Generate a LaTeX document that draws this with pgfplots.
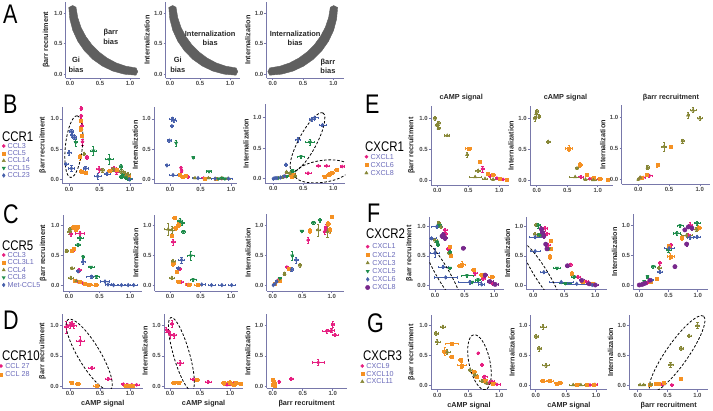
\documentclass[border=0pt]{standalone}
\usepackage{pgfplots}
\pgfplotsset{compat=1.18}
\usepackage{fontspec}
\setmainfont{Liberation Sans}
\usepackage{graphicx}
\definecolor{pinkc}{RGB}{230,30,128}
\definecolor{orangec}{RGB}{245,145,35}
\definecolor{olivec}{RGB}{135,135,55}
\definecolor{greenc}{RGB}{30,140,75}
\definecolor{bluec}{RGB}{70,95,170}
\definecolor{purplec}{RGB}{120,40,140}
\definecolor{axc}{RGB}{120,120,170}
\definecolor{tickc}{RGB}{70,70,70}
\definecolor{legc}{RGB}{105,105,185}
\definecolor{bandc}{RGB}{95,95,95}
\newcommand\tickf{\fontsize{6}{7}\selectfont\bfseries}
\newcommand\labf{\fontsize{7.3}{8}\selectfont\bfseries}
\newcommand\legf{\fontsize{7.2}{8}\selectfont}
\newcommand\letf{\fontsize{27}{27}\selectfont}
\newcommand\recf{\fontsize{14}{14}\selectfont}
\newcommand\dashell[5]{\draw[black, line width=0.8pt, dash pattern=on 2.6pt off 1.8pt,
  rotate around={#5:(axis cs:#1,#2)}] (axis cs:#1,#2) ellipse [x radius=#3bp, y radius=#4bp];}
\tikzset{atxt/.style={font=\fontsize{7.5}{9.5}\selectfont\bfseries, align=center, text=black!85}}

\pgfplotsset{
  panel/.style n args={8}{
    at={(#1bp,-#2bp)}, anchor=origin, x=#3bp, y=#4bp,
    xmin=#5, xmax=#6, ymin=#7, ymax=#8,
    axis lines=left, axis line style={draw=axc, line width=0.8pt, -},
    xtick={0,0.5,1}, ytick={0,0.5,1},
    xticklabels={0.0,0.5,1.0}, yticklabels={0.0,0.5,1.0},
    tick style={draw=axc, line width=0.6pt}, tick align=outside,
    major tick length=2.2bp,
    ticklabel style={font=\tickf, text=tickc, inner sep=1pt},
    label style={font=\labf, text=black!85},
    title style={font=\labf, text=black!85, yshift=-5bp},
    clip=true,
  },
  leg/.style n args={3}{legend style={at={(axis description cs:#1,#2)}, anchor=north west,
    draw=none, fill=none, inner sep=0pt, outer sep=0pt, font=\legf, text=legc,
    column sep=1.5pt, nodes={inner sep=#3, text height=5.3pt, text depth=0.7pt}},
    legend cell align=left},
  every axis plot post/.append style={legend image code/.code={
    \draw[mark repeat=2,mark phase=2,##1] plot coordinates {(0cm,0cm) (0.12cm,0cm) (0.24cm,0cm)};}},
  eb/.style={error bars/x dir=both, error bars/y dir=both,
    error bars/x explicit, error bars/y explicit,
    error bars/error bar style={line width=0.5pt},
    error bars/error mark options={rotate=90, mark size=1.1pt, line width=0.5pt}},
  pk/.style={only marks, color=pinkc, mark=*, mark size=1.6bp, eb},
  or/.style={only marks, color=orangec, mark=square*, mark size=1.5bp, eb},
  ol/.style={only marks, color=olivec, mark=triangle*, mark size=1.9bp, eb},
  gr/.style={only marks, color=greenc, mark=triangle*, mark options={rotate=180}, mark size=1.9bp, eb},
  bl/.style={only marks, color=bluec, mark=diamond*, mark size=1.9bp, eb},
  pu/.style={only marks, color=purplec, mark=*, mark size=2.2bp, eb},
  band/.style={draw=bandc, fill=bandc, line width=0.4pt},
}

\begin{document}
\begin{tikzpicture}
\useasboundingbox (0,0) rectangle (713bp,-411bp);

% ---------------- row A ----------------
\begin{axis}[panel={70}{74}{60}{60.7}{-0.07}{1.17}{-0.066}{1.19}, ylabel={βarr recruitment}]
\addplot[band] coordinates {(-0.020,1.100)(-0.003,0.905)(0.047,0.717)(0.130,0.540)(0.242,0.380)(0.380,0.242)(0.540,0.130)(0.717,0.047)(0.905,-0.003)(1.100,-0.020)(1.13,0.04)(1.100,0.100)(0.929,0.129)(0.767,0.184)(0.617,0.264)(0.482,0.364)(0.364,0.482)(0.264,0.617)(0.184,0.767)(0.129,0.929)(0.100,1.100)(0.04,1.13)};
\node[atxt] at (axis cs:0.68,0.61) {βarr\\bias};
\node[atxt] at (axis cs:0.10,0.15) {Gi\\bias};
\end{axis}
\begin{axis}[panel={170}{74}{60}{60.7}{-0.07}{1.17}{-0.066}{1.19}, ylabel={Internalization}]
\addplot[band] coordinates {(-0.020,1.100)(-0.003,0.905)(0.047,0.717)(0.130,0.540)(0.242,0.380)(0.380,0.242)(0.540,0.130)(0.717,0.047)(0.905,-0.003)(1.100,-0.020)(1.13,0.04)(1.100,0.100)(0.929,0.129)(0.767,0.184)(0.617,0.264)(0.482,0.364)(0.364,0.482)(0.264,0.617)(0.184,0.767)(0.129,0.929)(0.100,1.100)(0.04,1.13)};
\node[atxt] at (axis cs:0.67,0.59) {Internalization\\bias};
\node[atxt] at (axis cs:0.13,0.15) {Gi\\bias};
\end{axis}
\begin{axis}[panel={272.7}{74}{60.7}{60.7}{-0.1}{1.17}{-0.066}{1.19}, ylabel={Internalization}]
\addplot[band] coordinates {(1.070,1.100)(1.053,0.905)(1.003,0.717)(0.920,0.540)(0.808,0.380)(0.670,0.242)(0.510,0.130)(0.333,0.047)(0.145,-0.003)(-0.050,-0.020)(-0.08,0.04)(-0.050,0.100)(0.121,0.129)(0.283,0.184)(0.433,0.264)(0.568,0.364)(0.686,0.482)(0.786,0.617)(0.866,0.767)(0.921,0.929)(0.950,1.100)(1.01,1.13)};
\node[atxt] at (axis cs:0.37,0.59) {Internalization\\bias};
\node[atxt] at (axis cs:0.91,0.13) {βarr\\bias};
\end{axis}

% ---------------- row B ----------------
\begin{axis}[panel={69}{179.3}{61}{60.5}{-0.11}{1.2}{-0.07}{1.2}, ylabel={βarr recruitment}, leg={-0.753}{0.537}{0.7pt}]
\addplot[pk] table[x error index=2,y error index=3,row sep=\\]{x y ex ey\\ 0.20 1.17 0.01 0.03\\ 0.20 1.05 0.01 0.03\\ 0.20 0.98 0.01 0.03\\ 0.21 0.88 0.02 0.04\\ 0.22 0.62 0.02 0.05\\ 0.29 0.36 0.02 0.03\\ 0.49 0.17 0.05 0.05\\ 0.74 0.18 0.04 0.03\\ 0.78 0.12 0.03 0.03\\ 0.95 0.04 0.03 0.02\\};
\addlegendentry{CCL3}
\addplot[or] table[x error index=2,y error index=3,row sep=\\]{x y ex ey\\ 0.19 0.97 0.02 0.03\\ 0.19 0.84 0.02 0.04\\ 0.20 0.72 0.02 0.03\\ 0.18 0.37 0.02 0.05\\ 0.20 0.13 0.03 0.03\\ 0.28 0.11 0.02 0.02\\ 0.67 0.14 0.04 0.03\\ 0.78 0.16 0.03 0.03\\ 0.92 0.07 0.03 0.03\\ 0.98 0.04 0.03 0.02\\};
\addlegendentry{CCL5}
\addplot[ol] table[x error index=2,y error index=3,row sep=\\]{x y ex ey\\ 0.25 0.42 0.02 0.02\\ 0.55 0.15 0.03 0.03\\ 0.73 0.17 0.03 0.03\\ 0.86 0.13 0.03 0.03\\ 0.92 0.10 0.03 0.03\\ 0.97 0.08 0.03 0.03\\ 0.94 0.05 0.03 0.02\\};
\addlegendentry{CCL14}
\addplot[gr] table[x error index=2,y error index=3,row sep=\\]{x y ex ey\\ 0.11 0.61 0.02 0.06\\ 0.40 0.47 0.05 0.07\\ 0.66 0.33 0.07 0.08\\ 0.85 0.21 0.02 0.04\\ 0.89 0.07 0.03 0.03\\ 0.93 0.03 0.03 0.03\\ 0.97 0.01 0.03 0.02\\ 1.00 0.00 0.03 0.02\\ 0.86 0.04 0.03 0.02\\};
\addlegendentry{CCL15}
\addplot[bl] table[x error index=2,y error index=3,row sep=\\]{x y ex ey\\ 0.04 0.79 0.03 0.04\\ 0.05 0.73 0.03 0.04\\ 0.09 0.69 0.03 0.03\\ 0.00 0.44 0.03 0.04\\ -0.05 0.25 0.03 0.02\\ 0.04 0.18 0.05 0.05\\ 0.27 0.18 0.04 0.04\\ 0.47 0.05 0.06 0.05\\ 0.62 0.09 0.05 0.03\\ 0.99 0.00 0.04 0.02\\};
\addlegendentry{CCL23}
\dashell{0.08}{0.54}{31}{8.5}{84}
\end{axis}
\begin{axis}[panel={170}{179.3}{61}{60.5}{-0.26}{1.1}{-0.07}{1.2}, ylabel={Internalization}]
\addplot[pk] table[x error index=2,y error index=3,row sep=\\]{x y ex ey\\ 0.18 0.19 0.01 0.03\\ 0.19 0.14 0.01 0.02\\ 0.29 0.04 0.02 0.02\\ 0.55 0.02 0.03 0.01\\ 0.85 0.01 0.03 0.01\\};
\addplot[or] table[x error index=2,y error index=3,row sep=\\]{x y ex ey\\ 0.16 0.07 0.02 0.02\\ 0.20 0.04 0.03 0.02\\ 0.25 0.06 0.02 0.02\\ 0.57 0.01 0.03 0.01\\ 0.75 0.01 0.03 0.01\\};
\addplot[ol] table[x error index=2,y error index=3,row sep=\\]{x y ex ey\\ 0.41 0.02 0.03 0.01\\ 0.63 0.02 0.03 0.01\\ 0.85 0.02 0.03 0.01\\ 0.95 0.01 0.03 0.01\\};
\addplot[gr] table[x error index=2,y error index=3,row sep=\\]{x y ex ey\\ 0.10 0.60 0.01 0.05\\ 0.38 0.36 0.02 0.02\\ 0.64 0.13 0.04 0.01\\ 0.79 0.01 0.03 0.01\\ 0.85 0.02 0.03 0.01\\ 0.90 0.01 0.03 0.01\\};
\addplot[bl] table[x error index=2,y error index=3,row sep=\\]{x y ex ey\\ 0.04 1.00 0.05 0.03\\ 0.06 0.97 0.04 0.02\\ 0.03 0.88 0.02 0.02\\ -0.01 0.64 0.03 0.03\\ -0.05 0.23 0.03 0.02\\ 0.05 0.07 0.07 0.01\\ 0.46 0.02 0.10 0.01\\ 0.74 0.01 0.06 0.01\\ 0.96 0.01 0.06 0.01\\};
\end{axis}
\begin{axis}[panel={273.3}{178.7}{60}{61}{-0.14}{1.2}{-0.07}{1.22}, ylabel={Internalization}]
\addplot[pk] table[x error index=2,y error index=3,row sep=\\]{x y ex ey\\ 0.75 0.21 0.04 0.01\\ 0.89 0.21 0.04 0.01\\ 1.15 0.20 0.04 0.01\\ 0.58 0.09 0.05 0.01\\ 0.20 0.04 0.02 0.01\\};
\addplot[or] table[x error index=2,y error index=3,row sep=\\]{x y ex ey\\ 0.97 0.10 0.05 0.02\\ 0.92 0.06 0.04 0.02\\ 1.05 0.14 0.04 0.02\\ 0.86 0.04 0.04 0.02\\ 0.33 0.07 0.03 0.02\\ 0.30 0.04 0.03 0.02\\};
\addplot[ol] table[x error index=2,y error index=3,row sep=\\]{x y ex ey\\ 0.22 0.11 0.02 0.02\\ 0.28 0.09 0.03 0.02\\ 0.36 0.04 0.03 0.02\\ 0.08 0.01 0.02 0.01\\ 0.15 0.02 0.02 0.01\\};
\addplot[gr] table[x error index=2,y error index=3,row sep=\\]{x y ex ey\\ 0.61 0.60 0.08 0.05\\ 0.46 0.36 0.06 0.02\\ 0.32 0.13 0.04 0.02\\ 0.22 0.04 0.03 0.02\\ 0.08 0.01 0.02 0.01\\};
\addplot[bl] table[x error index=2,y error index=3,row sep=\\]{x y ex ey\\ 0.69 1.00 0.06 0.02\\ 0.64 0.97 0.04 0.02\\ 0.82 0.88 0.06 0.02\\ 0.41 0.64 0.04 0.04\\ 0.21 0.23 0.03 0.02\\ 0.18 0.04 0.03 0.02\\ 0.12 0.02 0.03 0.01\\ 0.06 0.01 0.02 0.01\\ 0.00 0.00 0.02 0.01\\ 0.03 0.01 0.02 0.01\\};
\dashell{0.57}{0.60}{33}{9}{62}
\dashell{0.82}{0.12}{28}{11}{8}
\end{axis}

% ---------------- row C ----------------
\begin{axis}[panel={69}{285.7}{61}{60}{-0.1}{1.2}{-0.09}{1.18}, ylabel={βarr recruitment}, leg={-0.767}{0.522}{0.75pt}]
\addplot[pk] table[x error index=2,y error index=3,row sep=\\]{x y ex ey\\ 0.03 0.86 0.02 0.04\\ 0.18 0.87 0.07 0.03\\ 0.06 0.58 0.02 0.02\\ 0.17 0.26 0.03 0.03\\ 0.14 0.07 0.03 0.02\\ 0.23 0.04 0.03 0.02\\};
\addlegendentry{CCL3}
\addplot[or] table[x error index=2,y error index=3,row sep=\\]{x y ex ey\\ 0.07 0.97 0.03 0.03\\ 0.10 0.98 0.03 0.03\\ 0.13 0.96 0.03 0.03\\ 0.15 0.99 0.02 0.02\\ 0.11 0.93 0.03 0.03\\ 0.04 0.59 0.02 0.02\\ 0.07 0.62 0.02 0.02\\ 0.10 0.08 0.03 0.02\\ 0.18 0.06 0.04 0.02\\ 0.26 0.03 0.04 0.01\\ 0.32 0.02 0.04 0.01\\ 0.43 0.01 0.05 0.01\\};
\addlegendentry{CCL3L1}
\addplot[ol] table[x error index=2,y error index=3,row sep=\\]{x y ex ey\\ 0.00 0.90 0.03 0.04\\ 0.02 0.94 0.03 0.03\\ -0.04 0.58 0.02 0.02\\ 0.05 0.29 0.03 0.02\\ 0.03 0.13 0.04 0.02\\ 0.12 0.08 0.03 0.02\\};
\addlegendentry{CCL4}
\addplot[gr] table[x error index=2,y error index=3,row sep=\\]{x y ex ey\\ 0.18 0.79 0.05 0.03\\ 0.15 0.68 0.04 0.03\\ 0.23 0.48 0.02 0.03\\ 0.36 0.31 0.05 0.02\\ 0.45 0.15 0.05 0.02\\};
\addlegendentry{CCL8}
\addplot[bl] table[x error index=2,y error index=3,row sep=\\]{x y ex ey\\ 0.23 0.40 0.03 0.04\\ 0.15 0.24 0.03 0.02\\ 0.37 0.15 0.08 0.02\\ 0.59 0.07 0.07 0.02\\ 0.64 0.02 0.05 0.01\\ 0.73 0.01 0.06 0.01\\ 0.86 0.01 0.06 0.01\\ 0.97 0.01 0.06 0.01\\ 1.06 0.01 0.06 0.01\\};
\addlegendentry{Met-CCL5}
\end{axis}
\begin{axis}[panel={170}{285.7}{61}{60}{-0.25}{1.12}{-0.09}{1.18}, ylabel={Internalization}]
\addplot[pk] table[x error index=2,y error index=3,row sep=\\]{x y ex ey\\ 0.05 0.73 0.03 0.05\\ 0.16 0.28 0.03 0.03\\ 0.18 0.06 0.03 0.02\\ 0.30 0.02 0.04 0.01\\};
\addplot[or] table[x error index=2,y error index=3,row sep=\\]{x y ex ey\\ 0.07 1.13 0.03 0.03\\ 0.14 1.01 0.03 0.04\\ 0.09 0.96 0.03 0.03\\ 0.03 0.84 0.03 0.04\\ 0.05 0.37 0.03 0.04\\ 0.11 0.23 0.03 0.02\\ 0.14 0.07 0.04 0.02\\ 0.30 0.02 0.05 0.01\\ 0.45 0.01 0.05 0.01\\};
\addplot[ol] table[x error index=2,y error index=3,row sep=\\]{x y ex ey\\ -0.03 0.94 0.06 0.10\\ 0.03 0.93 0.04 0.06\\ 0.05 0.41 0.03 0.03\\ 0.03 0.13 0.04 0.02\\};
\addplot[gr] table[x error index=2,y error index=3,row sep=\\]{x y ex ey\\ 0.16 1.08 0.04 0.04\\ 0.20 1.04 0.04 0.03\\ 0.22 0.90 0.03 0.03\\ 0.34 0.50 0.06 0.07\\ 0.38 0.10 0.05 0.02\\};
\addplot[bl] table[x error index=2,y error index=3,row sep=\\]{x y ex ey\\ 0.19 0.43 0.05 0.05\\ 0.14 0.29 0.03 0.02\\ 0.52 0.02 0.06 0.01\\ 0.68 0.01 0.06 0.01\\ 0.85 0.01 0.06 0.01\\ 1.01 0.01 0.06 0.01\\};
\end{axis}
\begin{axis}[panel={272.7}{285.7}{59}{60}{-0.1}{1.2}{-0.09}{1.2}, ylabel={Internalization}]
\addplot[pk] table[x error index=2,y error index=3,row sep=\\]{x y ex ey\\ 0.60 0.76 0.02 0.05\\ 0.90 0.97 0.03 0.05\\ 0.88 0.90 0.03 0.04\\ 0.24 0.31 0.02 0.02\\ 0.10 0.10 0.02 0.02\\};
\addplot[or] table[x error index=2,y error index=3,row sep=\\]{x y ex ey\\ 1.00 1.15 0.02 0.02\\ 0.94 1.03 0.03 0.04\\ 0.63 0.92 0.03 0.04\\ 0.97 0.93 0.03 0.05\\ 0.27 0.29 0.02 0.02\\ 0.12 0.09 0.02 0.02\\ 0.04 0.04 0.02 0.02\\};
\addplot[ol] table[x error index=2,y error index=3,row sep=\\]{x y ex ey\\ 0.77 0.93 0.03 0.10\\ 0.93 0.90 0.04 0.10\\ 0.46 0.34 0.02 0.03\\ 0.20 0.20 0.02 0.02\\};
\addplot[gr] table[x error index=2,y error index=3,row sep=\\]{x y ex ey\\ 0.49 0.91 0.02 0.02\\ 0.80 1.09 0.02 0.04\\ 0.69 1.05 0.03 0.02\\ 0.33 0.50 0.02 0.08\\ 0.12 0.12 0.02 0.02\\};
\addplot[bl] table[x error index=2,y error index=3,row sep=\\]{x y ex ey\\ 0.40 0.43 0.04 0.05\\ 0.32 0.27 0.02 0.03\\ 0.07 0.07 0.02 0.02\\ 0.01 0.01 0.02 0.01\\ 0.04 0.03 0.02 0.01\\};
\end{axis}

% ---------------- row D ----------------
\begin{axis}[panel={70}{386}{60}{60.3}{-0.13}{1.22}{-0.04}{1.2}, ylabel={βarr recruitment}, xlabel={cAMP signal}, leg={-0.775}{0.355}{1.15pt}]
\addplot[pk] table[x error index=2,y error index=3,row sep=\\]{x y ex ey\\ -0.06 0.98 0.03 0.10\\ 0.00 1.01 0.04 0.05\\ 0.06 1.00 0.05 0.04\\ 0.03 1.03 0.03 0.04\\ 0.17 0.75 0.06 0.08\\ 0.36 0.30 0.05 0.03\\ 0.64 0.12 0.05 0.02\\ 0.89 0.03 0.04 0.01\\ 0.96 0.02 0.05 0.01\\ 1.03 0.02 0.05 0.01\\ 1.11 0.02 0.04 0.01\\};
\addlegendentry{CCL 27}
\addplot[or] table[x error index=2,y error index=3,row sep=\\]{x y ex ey\\ 0.02 0.06 0.04 0.01\\ 0.13 0.03 0.04 0.01\\ 0.44 0.00 0.05 0.01\\ 0.92 0.00 0.04 0.01\\ 0.98 0.01 0.05 0.01\\ 1.05 0.01 0.05 0.01\\};
\addlegendentry{CCL 28}
\dashell{0.32}{0.52}{41}{11}{-59}
\end{axis}
\begin{axis}[panel={170}{386}{60}{60.3}{-0.1}{1.22}{-0.04}{1.2}, ylabel={Internalization}, xlabel={cAMP signal}]
\addplot[pk] table[x error index=2,y error index=3,row sep=\\]{x y ex ey\\ -0.06 0.93 0.02 0.04\\ 0.00 0.85 0.02 0.05\\ 0.03 1.03 0.03 0.06\\ 0.07 0.84 0.03 0.04\\ -0.02 0.90 0.02 0.03\\ 0.17 0.38 0.05 0.04\\ 0.39 0.11 0.05 0.02\\ 0.64 0.07 0.05 0.02\\ 1.00 0.03 0.05 0.01\\ 1.06 0.04 0.05 0.01\\ 0.95 0.02 0.04 0.01\\};
\addplot[or] table[x error index=2,y error index=3,row sep=\\]{x y ex ey\\ 0.06 0.05 0.04 0.02\\ 0.14 0.06 0.04 0.02\\ 0.45 0.10 0.04 0.02\\ 0.90 0.05 0.04 0.03\\ 1.00 0.06 0.05 0.03\\ 1.06 0.02 0.05 0.02\\ 1.10 0.05 0.04 0.02\\ 1.17 0.03 0.03 0.02\\};
\dashell{0.19}{0.53}{38}{8}{-74}
\end{axis}
\begin{axis}[panel={272.7}{386}{60}{60.3}{-0.1}{1.23}{-0.04}{1.2}, ylabel={Internalization}, xlabel={βarr recruitment}]
\addplot[pk] table[x error index=2,y error index=3,row sep=\\]{x y ex ey\\ 1.00 1.02 0.02 0.05\\ 0.90 0.91 0.08 0.03\\ 1.04 0.85 0.05 0.03\\ 0.98 0.92 0.05 0.03\\ 0.76 0.39 0.10 0.05\\ 0.31 0.12 0.04 0.02\\ 0.11 0.07 0.02 0.02\\};
\addplot[or] table[x error index=2,y error index=3,row sep=\\]{x y ex ey\\ 0.00 0.10 0.02 0.03\\ 0.02 0.05 0.02 0.02\\ 0.00 0.02 0.02 0.02\\ 0.03 0.00 0.02 0.01\\ 0.01 0.07 0.02 0.02\\ 0.04 0.03 0.02 0.02\\};
\end{axis}

% ---------------- row E ----------------
\begin{axis}[panel={437.3}{180}{62}{61.7}{-0.1}{1.16}{-0.08}{1.2}, ylabel={βarr recruitment}, title={cAMP signal}, title style={xshift=-9bp}, leg={-0.849}{0.409}{1.1pt}]
\addplot[pk] table[x error index=2,y error index=3,row sep=\\]{x y ex ey\\ 0.73 0.18 0.02 0.05\\ 0.85 0.07 0.03 0.02\\ 0.96 0.03 0.03 0.01\\ 1.06 0.01 0.03 0.01\\};
\addlegendentry{CXCL1}
\addplot[or] table[x error index=2,y error index=3,row sep=\\]{x y ex ey\\ 0.50 0.51 0.05 0.02\\ 0.69 0.30 0.02 0.02\\ 0.82 0.11 0.02 0.02\\ 0.90 0.08 0.03 0.02\\ 1.01 0.02 0.03 0.01\\ 1.12 0.01 0.03 0.01\\};
\addlegendentry{CXCL6}
\addplot[ol] table[x error index=2,y error index=3,row sep=\\]{x y ex ey\\ -0.04 1.00 0.02 0.03\\ 0.02 0.92 0.02 0.03\\ -0.01 0.89 0.02 0.02\\ 0.02 0.84 0.02 0.02\\ 0.16 0.72 0.04 0.01\\ 0.48 0.41 0.02 0.04\\ 0.66 0.15 0.04 0.02\\ 0.61 0.05 0.10 0.01\\ 0.77 0.02 0.04 0.01\\ 0.90 0.01 0.04 0.01\\};
\addlegendentry{CXCL8}
\end{axis}
\begin{axis}[panel={536.7}{180}{61}{61.7}{-0.11}{1.25}{-0.08}{1.2}, ylabel={Internalization}, title={cAMP signal}, title style={xshift=-6bp}]
\addplot[pk] table[x error index=2,y error index=3,row sep=\\]{x y ex ey\\ 0.72 0.05 0.04 0.02\\ 0.87 0.02 0.03 0.01\\ 1.02 0.01 0.03 0.01\\};
\addplot[or] table[x error index=2,y error index=3,row sep=\\]{x y ex ey\\ 0.53 0.51 0.06 0.05\\ 0.71 0.24 0.03 0.04\\ 0.82 0.08 0.03 0.02\\ 0.93 0.03 0.03 0.01\\ 1.04 0.02 0.04 0.01\\ 1.17 0.01 0.03 0.01\\};
\addplot[ol] table[x error index=2,y error index=3,row sep=\\]{x y ex ey\\ 0.00 1.11 0.03 0.04\\ -0.01 1.07 0.02 0.03\\ -0.03 1.00 0.02 0.04\\ 0.04 1.03 0.02 0.03\\ 0.19 0.62 0.03 0.02\\ 0.66 0.19 0.02 0.02\\ 0.63 0.05 0.10 0.01\\ 0.93 0.00 0.04 0.01\\ 0.80 0.01 0.04 0.01\\};
\end{axis}
\begin{axis}[panel={638.3}{179.3}{61.5}{61.7}{-0.27}{1.17}{-0.08}{1.2}, ylabel={Internalization}, title={βarr recruitment}, title style={xshift=5bp}]
\addplot[pk] table[x error index=2,y error index=3,row sep=\\]{x y ex ey\\ 0.18 0.06 0.05 0.02\\ 0.08 0.03 0.03 0.01\\ 0.03 0.02 0.02 0.01\\};
\addplot[or] table[x error index=2,y error index=3,row sep=\\]{x y ex ey\\ 0.53 0.53 0.03 0.03\\ 0.31 0.23 0.02 0.03\\ 0.14 0.08 0.02 0.02\\ 0.05 0.02 0.02 0.01\\};
\addplot[ol] table[x error index=2,y error index=3,row sep=\\]{x y ex ey\\ 0.89 1.12 0.05 0.04\\ 0.81 1.04 0.02 0.05\\ 1.00 0.99 0.04 0.04\\ 0.72 0.62 0.02 0.03\\ 0.42 0.53 0.04 0.07\\ 0.15 0.19 0.02 0.03\\ 0.03 0.03 0.02 0.02\\ 0.00 0.00 0.02 0.02\\};
\end{axis}

% ---------------- row F ----------------
\begin{axis}[panel={435}{285}{59}{58.3}{-0.1}{1.17}{-0.08}{1.17}, ylabel={βarr recruitment}, leg={-0.849}{0.646}{1.1pt}]
\addplot[pk] table[x error index=2,y error index=3,row sep=\\]{x y ex ey\\ 0.17 0.94 0.03 0.04\\ 0.18 0.87 0.03 0.04\\ 0.22 0.62 0.03 0.03\\ 0.68 0.20 0.04 0.03\\ 0.82 0.11 0.04 0.02\\ 0.96 0.03 0.04 0.02\\};
\addlegendentry{CXCL1}
\addplot[or] table[x error index=2,y error index=3,row sep=\\]{x y ex ey\\ 0.25 0.66 0.03 0.03\\ 0.27 0.51 0.03 0.04\\ 0.46 0.35 0.05 0.05\\ 0.42 0.33 0.04 0.03\\ 0.65 0.26 0.04 0.03\\ 0.79 0.17 0.04 0.03\\ 0.96 0.14 0.05 0.03\\};
\addlegendentry{CXCL2}
\addplot[ol] table[x error index=2,y error index=3,row sep=\\]{x y ex ey\\ 0.06 1.06 0.03 0.03\\ 0.00 0.77 0.03 0.03\\ 0.10 1.00 0.03 0.03\\ 0.24 0.55 0.03 0.03\\};
\addlegendentry{CXCL3}
\addplot[gr] table[x error index=2,y error index=3,row sep=\\]{x y ex ey\\ 0.07 1.03 0.03 0.04\\ 0.03 0.74 0.03 0.03\\ 0.05 0.69 0.03 0.03\\ 0.25 0.56 0.03 0.03\\ 0.25 0.29 0.03 0.02\\ 0.54 0.16 0.10 0.02\\ 0.73 0.09 0.04 0.02\\ 0.63 0.05 0.05 0.02\\};
\addlegendentry{CXCL5}
\addplot[bl] table[x error index=2,y error index=3,row sep=\\]{x y ex ey\\ 0.03 1.00 0.10 0.03\\ -0.06 0.80 0.08 0.02\\ 0.00 0.55 0.08 0.08\\ 0.14 0.31 0.08 0.03\\ 0.18 0.13 0.20 0.02\\ 0.59 0.05 0.20 0.03\\ 0.79 0.01 0.05 0.01\\};
\addlegendentry{CXCL6}
\addplot[pu] table[x error index=2,y error index=3,row sep=\\]{x y ex ey\\ 0.14 0.86 0.03 0.04\\ 0.17 0.80 0.03 0.03\\ 0.12 0.84 0.03 0.03\\ 0.48 0.63 0.03 0.02\\ 0.85 0.17 0.04 0.03\\ 0.93 0.06 0.05 0.02\\ 1.02 0.01 0.05 0.01\\};
\addlegendentry{CXCL8}
\dashell{0.13}{0.20}{36}{6.5}{-60}
\end{axis}
\begin{axis}[panel={533.3}{285}{62}{58.3}{-0.11}{1.19}{-0.08}{1.17}, ylabel={Internalization}]
\addplot[pk] table[x error index=2,y error index=3,row sep=\\]{x y ex ey\\ 0.19 0.97 0.03 0.04\\ 0.22 0.88 0.03 0.03\\ 0.24 0.68 0.03 0.03\\ 0.60 0.35 0.03 0.02\\ 0.72 0.14 0.04 0.02\\ 0.85 0.06 0.04 0.02\\ 0.95 0.02 0.04 0.01\\};
\addplot[or] table[x error index=2,y error index=3,row sep=\\]{x y ex ey\\ 0.28 0.76 0.02 0.03\\ 0.28 0.62 0.02 0.03\\ 0.27 0.48 0.02 0.04\\ 0.62 0.20 0.03 0.03\\ 0.80 0.05 0.04 0.02\\ 0.95 0.02 0.04 0.01\\};
\addplot[ol] table[x error index=2,y error index=3,row sep=\\]{x y ex ey\\ 0.05 1.03 0.03 0.03\\ 0.03 0.87 0.03 0.03\\ 0.10 0.85 0.03 0.03\\};
\addplot[gr] table[x error index=2,y error index=3,row sep=\\]{x y ex ey\\ 0.08 1.02 0.03 0.04\\ 0.10 0.86 0.03 0.03\\ 0.25 0.62 0.03 0.03\\ 0.38 0.29 0.06 0.02\\ 0.66 0.14 0.05 0.02\\ 0.52 0.03 0.10 0.02\\};
\addplot[bl] table[x error index=2,y error index=3,row sep=\\]{x y ex ey\\ 0.03 0.82 0.10 0.02\\ 0.03 0.58 0.08 0.02\\ 0.17 0.22 0.06 0.02\\ 0.45 0.05 0.20 0.01\\ 0.70 0.02 0.15 0.01\\ 0.95 0.00 0.05 0.01\\};
\addplot[pu] table[x error index=2,y error index=3,row sep=\\]{x y ex ey\\ 0.13 0.96 0.03 0.04\\ 0.15 0.90 0.03 0.03\\ 0.17 0.84 0.03 0.03\\ 0.20 0.70 0.03 0.03\\ 0.22 0.62 0.03 0.03\\ 0.55 0.33 0.04 0.02\\ 0.78 0.08 0.04 0.02\\ 0.90 0.02 0.04 0.01\\ 1.00 0.00 0.04 0.01\\};
\dashell{0.12}{0.20}{36}{6.5}{-58}
\end{axis}
\begin{axis}[panel={639.3}{285}{58.4}{59.3}{-0.1}{1.17}{-0.08}{1.2}, ylabel={Internalization}]
\addplot[pk] table[x error index=2,y error index=3,row sep=\\]{x y ex ey\\ 0.87 1.01 0.04 0.04\\ 0.84 0.84 0.04 0.03\\ 0.54 0.67 0.03 0.03\\ 0.35 0.37 0.03 0.03\\ 0.13 0.04 0.03 0.02\\ 0.05 0.01 0.02 0.01\\};
\addplot[or] table[x error index=2,y error index=3,row sep=\\]{x y ex ey\\ 1.01 0.96 0.05 0.04\\ 0.73 0.79 0.03 0.04\\ 0.53 0.48 0.06 0.05\\ 0.50 0.65 0.03 0.03\\ 0.30 0.10 0.03 0.02\\ 0.20 0.05 0.03 0.02\\};
\addplot[ol] table[x error index=2,y error index=3,row sep=\\]{x y ex ey\\ 0.98 0.94 0.06 0.03\\ 0.81 0.84 0.10 0.03\\ 0.34 0.29 0.03 0.03\\ 0.10 0.04 0.02 0.02\\};
\addplot[gr] table[x error index=2,y error index=3,row sep=\\]{x y ex ey\\ 0.99 1.04 0.05 0.04\\ 0.70 1.00 0.05 0.03\\ 0.64 0.87 0.06 0.03\\ 0.50 0.59 0.04 0.03\\ 0.24 0.31 0.03 0.03\\ 0.14 0.14 0.02 0.02\\ 0.08 0.06 0.02 0.02\\};
\addplot[bl] table[x error index=2,y error index=3,row sep=\\]{x y ex ey\\ 0.99 0.81 0.05 0.03\\ 0.87 0.80 0.05 0.03\\ 0.51 0.62 0.08 0.03\\ 0.35 0.22 0.05 0.03\\ 0.21 0.08 0.03 0.02\\ 0.04 0.01 0.02 0.01\\};
\addplot[pu] table[x error index=2,y error index=3,row sep=\\]{x y ex ey\\ 0.84 0.98 0.03 0.03\\ 0.78 0.93 0.03 0.03\\ 0.90 0.96 0.03 0.03\\ 0.81 0.69 0.03 0.03\\ 0.61 0.31 0.02 0.02\\ 0.18 0.08 0.03 0.02\\ 0.10 0.03 0.03 0.01\\ 0.05 0.01 0.03 0.01\\ 0.00 0.00 0.02 0.01\\};
\end{axis}

% ---------------- row G ----------------
\begin{axis}[panel={437.3}{385}{62}{60}{-0.1}{1.12}{-0.08}{1.17}, ylabel={βarr recruitment}, xlabel={cAMP signal}, leg={-0.931}{0.37}{0.925pt}]
\addplot[pk] table[x error index=2,y error index=3,row sep=\\]{x y ex ey\\ 0.66 0.53 0.02 0.02\\ 0.72 0.34 0.02 0.02\\ 0.76 0.14 0.04 0.02\\ 0.82 0.03 0.06 0.02\\ 0.96 0.01 0.05 0.01\\ 0.88 0.06 0.04 0.02\\};
\addlegendentry{CXCL9}
\addplot[or] table[x error index=2,y error index=3,row sep=\\]{x y ex ey\\ 0.23 0.69 0.10 0.02\\ 0.12 0.56 0.04 0.07\\ 0.23 0.47 0.03 0.02\\ 0.37 0.42 0.03 0.02\\ 0.39 0.33 0.07 0.05\\ 0.58 0.22 0.05 0.02\\ 0.63 0.14 0.03 0.02\\ 0.77 0.08 0.04 0.02\\ 0.90 0.03 0.04 0.01\\};
\addlegendentry{CXCL10}
\addplot[ol] table[x error index=2,y error index=3,row sep=\\]{x y ex ey\\ 0.09 0.97 0.04 0.03\\ -0.02 0.86 0.03 0.03\\ 0.00 0.72 0.04 0.04\\ 0.16 0.55 0.05 0.04\\ 0.53 0.25 0.03 0.02\\ 0.61 0.17 0.03 0.02\\ 0.72 0.07 0.04 0.02\\ 0.80 0.03 0.04 0.01\\};
\addlegendentry{CXCL11}
\dashell{0.68}{0.38}{28}{10.5}{102}
\end{axis}
\begin{axis}[panel={535.7}{385}{60.3}{60}{-0.08}{1.18}{-0.08}{1.17}, ylabel={Internalization}, xlabel={cAMP signal}]
\addplot[pk] table[x error index=2,y error index=3,row sep=\\]{x y ex ey\\ 0.90 0.00 0.04 0.01\\ 0.98 0.01 0.04 0.01\\};
\addplot[or] table[x error index=2,y error index=3,row sep=\\]{x y ex ey\\ 0.12 0.07 0.05 0.02\\ 0.24 0.07 0.05 0.02\\ 0.35 0.03 0.05 0.02\\ 0.40 0.04 0.04 0.02\\ 0.68 0.01 0.05 0.01\\ 0.85 0.00 0.05 0.01\\ 0.96 0.00 0.04 0.01\\};
\addplot[ol] table[x error index=2,y error index=3,row sep=\\]{x y ex ey\\ 0.12 0.97 0.05 0.04\\ 0.01 0.81 0.04 0.03\\ 0.06 0.61 0.03 0.04\\ 0.17 0.33 0.06 0.03\\ 0.62 0.00 0.06 0.01\\ 0.75 0.00 0.05 0.01\\};
\end{axis}
\begin{axis}[panel={637.7}{385}{59.7}{60}{-0.14}{1.18}{-0.08}{1.17}, ylabel={Internalization}, xlabel={βarr recruitment}]
\addplot[pk] table[x error index=2,y error index=3,row sep=\\]{x y ex ey\\ 0.57 0.00 0.02 0.02\\ 0.40 0.01 0.02 0.01\\};
\addplot[or] table[x error index=2,y error index=3,row sep=\\]{x y ex ey\\ 0.72 0.10 0.02 0.02\\ 0.44 0.04 0.02 0.02\\ 0.35 0.02 0.02 0.01\\ 0.20 0.01 0.02 0.01\\ 0.30 0.03 0.02 0.01\\};
\addplot[ol] table[x error index=2,y error index=3,row sep=\\]{x y ex ey\\ 1.00 0.99 0.03 0.05\\ 0.86 0.82 0.03 0.03\\ 0.73 0.61 0.03 0.03\\ 0.55 0.34 0.04 0.04\\ 0.04 0.00 0.03 0.01\\ 0.21 0.01 0.03 0.01\\ 0.10 0.00 0.03 0.01\\};
\dashell{0.66}{0.52}{46}{11}{55}
\end{axis}

% ---------------- panel letters and receptor names ----------------
\node[anchor=base west, inner sep=0, font=\letf] at (3bp,-23bp) {\scalebox{0.8}[1]{A}};
\node[anchor=base west, inner sep=0, font=\letf] at (3bp,-113bp) {\scalebox{0.8}[1]{B}};
\node[anchor=base west, inner sep=0, font=\letf] at (3bp,-223bp) {\scalebox{0.8}[1]{C}};
\node[anchor=base west, inner sep=0, font=\letf] at (3bp,-329bp) {\scalebox{0.8}[1]{D}};
\node[anchor=base west, inner sep=0, font=\letf] at (365bp,-113bp) {\scalebox{0.8}[1]{E}};
\node[anchor=base west, inner sep=0, font=\letf] at (367bp,-222bp) {\scalebox{0.8}[1]{F}};
\node[anchor=base west, inner sep=0, font=\letf] at (367bp,-332bp) {\scalebox{0.8}[1]{G}};
\node[anchor=base west, inner sep=0, font=\recf] at (2bp,-141bp) {\scalebox{0.82}[1]{CCR1}};
\node[anchor=base west, inner sep=0, font=\recf] at (2bp,-250bp) {\scalebox{0.82}[1]{CCR5}};
\node[anchor=base west, inner sep=0, font=\recf] at (2bp,-360.7bp) {\scalebox{0.82}[1]{CCR10}};
\node[anchor=base west, inner sep=0, font=\recf] at (365bp,-151.5bp) {\scalebox{0.82}[1]{CXCR1}};
\node[anchor=base west, inner sep=0, font=\recf] at (366bp,-238bp) {\scalebox{0.82}[1]{CXCR2}};
\node[anchor=base west, inner sep=0, font=\recf] at (363bp,-360.2bp) {\scalebox{0.82}[1]{CXCR3}};
\end{tikzpicture}
\end{document}
